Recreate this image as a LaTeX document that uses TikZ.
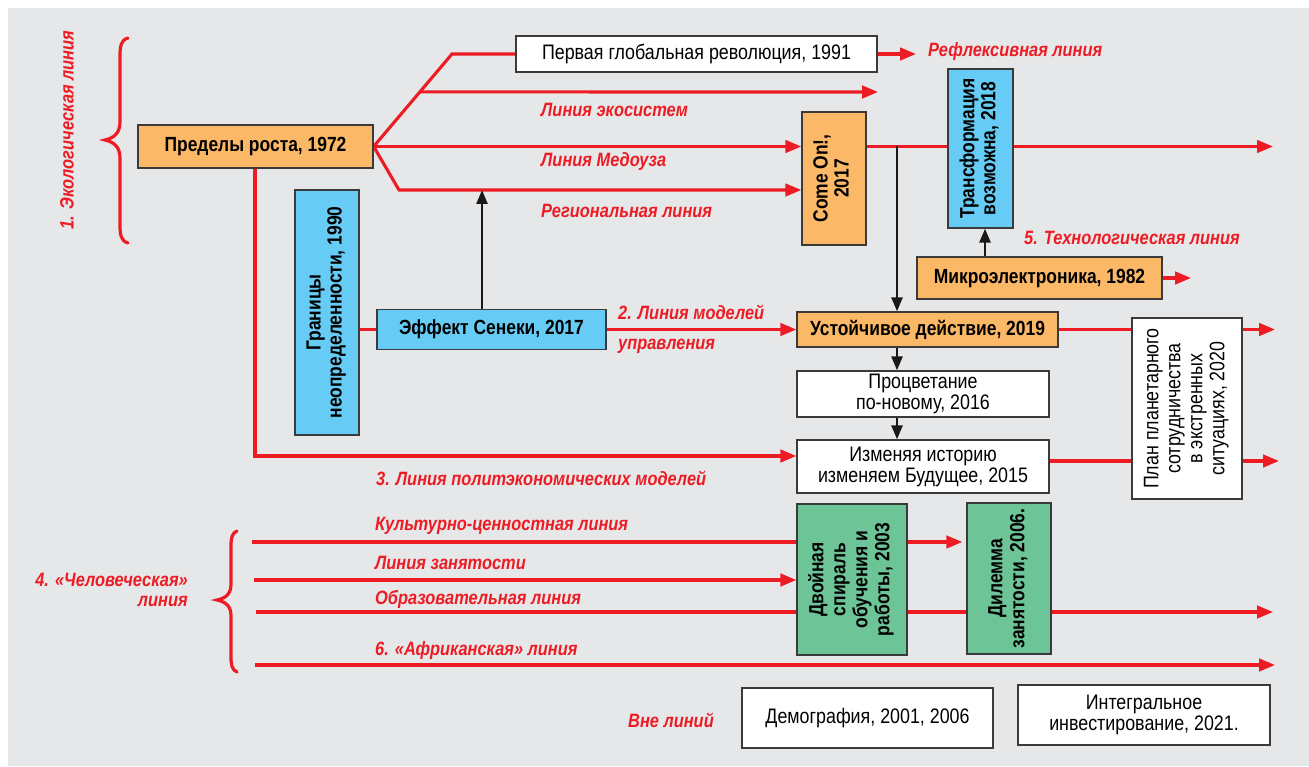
\documentclass[tikz,border=0pt]{standalone}
\usepackage{fontspec}
\usepackage{graphicx}
\setmainfont{Liberation Sans}[FakeStretch=0.85]
\usetikzlibrary{arrows.meta,calc}
\definecolor{bgc}{HTML}{E6E7E9}
\definecolor{lred}{HTML}{ED1C24}
\definecolor{lorange}{HTML}{FBB867}
\definecolor{lblue}{HTML}{66CCF5}
\definecolor{lgreen}{HTML}{6CC497}
\definecolor{lborder}{HTML}{3A3A3A}
\pgfdeclarelayer{backdrop}
\pgfdeclarelayer{bglines}
\pgfsetlayers{backdrop,bglines,main}
\tikzset{
 box/.style={draw=lborder, line width=1.3pt, inner sep=0pt, align=center, font=\fontsize{21}{21}\selectfont},
 obox/.style={box, fill=lorange, font=\bfseries\fontsize{20.5}{21}\selectfont},
 bbox/.style={box, fill=lblue, font=\bfseries\fontsize{20.5}{21}\selectfont},
 gbox/.style={box, fill=lgreen, font=\bfseries\fontsize{20.5}{22}\selectfont},
 wbox/.style={box, fill=white},
 rl/.style={draw=lred, line width=3.1pt},
 ra/.style={rl, -{Triangle[length=16pt,width=12.5pt]}},
 ka/.style={draw=black!90, line width=2.5pt, -{Triangle[length=14pt,width=11pt]}},
 lab/.style={text=lred, font=\bfseries\itshape\fontsize{19.3}{20}\selectfont, inner sep=0pt},
 brace/.style={draw=lred, line width=3.2pt, line cap=round},
}
\newcommand{\rot}[1]{\rotatebox{90}{\begin{tabular}{@{}c@{}}#1\end{tabular}}}
\begin{document}
\begin{tikzpicture}[x=1pt,y=-1pt]
\useasboundingbox (0,0) rectangle (1309,767);
\begin{pgfonlayer}{backdrop}
\fill[bgc] (8,8) rectangle (1309,766);
\end{pgfonlayer}

% nodes
\node[obox, minimum width=235pt, minimum height=43pt] (predely) at (255.5,146.5) {Пределы роста, 1972};
\node[wbox, minimum width=361pt, minimum height=36pt] (pervaya) at (696.5,54) {Первая глобальная революция, 1991};
\node[obox, minimum width=64pt, minimum height=133pt] (comeon) at (834,178.5) {\rot{Come On!,\\2017}};
\node[bbox, minimum width=65pt, minimum height=159pt] (transf) at (980.5,148.5) {\rot{Трансформация\\возможна, 2018}};
\node[obox, minimum width=245pt, minimum height=42pt] (micro) at (1039.5,278) {Микроэлектроника, 1982};
\node[bbox, minimum width=64pt, minimum height=245pt] (granitsy) at (327,312.5) {\rot{Границы\\неопределенности, 1990}};
\node[bbox, minimum width=229pt, minimum height=40pt] (seneca) at (491.5,329.5) {Эффект Сенеки, 2017};
\node[obox, minimum width=261pt, minimum height=35pt] (ustoi) at (927.5,329.5) {Устойчивое действие, 2019};
\node[wbox, minimum width=252pt, minimum height=46pt] (procv) at (923,394) {Процветание\\по-новому, 2016};
\node[wbox, minimum width=252pt, minimum height=53pt] (izmen) at (923,466.5) {Изменяя историю\\изменяем Будущее, 2015};
\node[wbox, minimum width=110pt, minimum height=181pt, font=\fontsize{21}{22}\selectfont] (plan) at (1187,408.5) {\rot{План планетарного\\сотрудничества\\в экстренных\\ситуациях, 2020}};
\node[gbox, minimum width=110pt, minimum height=151pt] (dvoin) at (852,579.5) {\rot{Двойная\\спираль\\обучения и\\работы, 2003}};
\node[gbox, minimum width=84pt, minimum height=151pt] (dilem) at (1009,578.5) {\rot{Дилемма\\занятости, 2006.}};
\node[wbox, minimum width=251pt, minimum height=60pt] (demogr) at (867.5,718) {Демография, 2001, 2006};
\node[wbox, minimum width=252pt, minimum height=60pt] (integr) at (1144,715) {Интегральное\\инвестирование, 2021.};

% labels
\node[lab, rotate=90] (l1) at (67,130) {1. Экологическая линия};
\node[lab, anchor=west] (lref) at (928,52) {Рефлексивная линия};
\node[lab, anchor=west] (leco) at (541,110) {Линия экосистем};
\node[lab, anchor=west] (lmed) at (541,162) {Линия Медоуза};
\node[lab, anchor=west] (lreg) at (541,211) {Региональная линия};
\node[lab, anchor=west] (ltech) at (1024,238) {5. Технологическая линия};
\node[lab, anchor=west, align=left, font=\bfseries\itshape\fontsize{19.3}{30}\selectfont] (lmod) at (618,329) {2. Линия моделей\\управления};
\node[lab, anchor=west] (lpol) at (376,478) {3. Линия политэкономических моделей};
\node[lab, anchor=east, align=right] (lhum) at (188,590) {4. «Человеческая»\\линия};
\node[lab, anchor=west] (lcul) at (375,526) {Культурно-ценностная линия};
\node[lab, anchor=west] (lzan) at (375,563) {Линия занятости};
\node[lab, anchor=west] (lobr) at (375,599) {Образовательная линия};
\node[lab, anchor=west] (lafr) at (375,651) {6. «Африканская» линия};
\node[lab, anchor=east] (lvne) at (714,720) {Вне линий};

% coordinates
\coordinate (A) at (452,54);
\coordinate (B) at (399,190);
\coordinate (C) at (255,456);
\coordinate (bx) at (897,146.5);
\coordinate (mx) at (985,0);
\coordinate (sx) at (482,0);
\coordinate (tRef) at (916,54);
\coordinate (tEco) at (878,92);
\coordinate (tMed) at (1273,146.5);
\coordinate (tMic) at (1191,278);
\coordinate (tUst) at (1275,329.5);
\coordinate (tIzm) at (1279,461);
\coordinate (s1) at (252,542);
\coordinate (s2) at (254,580);
\coordinate (s3) at (256,612);
\coordinate (s4) at (255,665);
\coordinate (tObr) at (1273,612);
\coordinate (tAfr) at (1275,665);

\begin{pgfonlayer}{bglines}
\draw[rl, line join=miter] (predely.east) -- (A) -- (pervaya.west);
\draw[ra] (pervaya.east) -- (tRef);
\draw[ra] ($(predely.east)!0.59!(A)$) -- (tEco);
\draw[ra] (predely.east) -- (comeon.west |- predely.east);
\draw[ra, line join=miter] (predely.east) -- (B) -- (comeon.west |- B);
\draw[ra] (comeon.east |- tMed) -- (tMed);
\draw[ka] (bx) -- (bx |- ustoi.north);
\draw[ra] (micro.east) -- (tMic);
\draw[ka] (micro.north -| mx) -- (transf.south -| mx);
\draw[rl] (granitsy.east |- seneca.west) -- (seneca.west);
\draw[ka] (seneca.north -| sx) -- (B -| sx);
\draw[ra] (seneca.east) -- (ustoi.west);
\draw[ra, line join=miter] (predely.south -| C) -- (C) -- (izmen.west |- C);
\draw[ra] (ustoi.east) -- (tUst);
\draw[ka] (ustoi.south -| bx) -- (procv.north -| bx);
\draw[ka] (procv.south -| bx) -- (izmen.north -| bx);
\draw[ra] (izmen.east |- tIzm) -- (tIzm);
\draw[rl] (s1) -- (dvoin.west |- s1);
\draw[ra] (dvoin.east |- s1) -- ([xshift=-4pt]dilem.west |- s1);
\draw[ra] (s2) -- (dvoin.west |- s2);
\draw[ra] (s3) -- (tObr);
\draw[ra] (s4) -- (tAfr);
\end{pgfonlayer}

% braces
\draw[brace] (128,38) .. controls (121,40) and (120,46) .. (120,56) -- (120,122) .. controls (120,133) and (114,138) .. (105,140) .. controls (114,142) and (120,147) .. (120,158) -- (120,225) .. controls (120,235) and (121,241) .. (128,243);
\draw[brace] (237,531) .. controls (232,533) and (231,538) .. (231,546) -- (231,584) .. controls (231,594) and (226,598) .. (217,600) .. controls (226,602) and (231,606) .. (231,616) -- (231,657) .. controls (231,665) and (232,670) .. (237,672);
\end{tikzpicture}
\end{document}
